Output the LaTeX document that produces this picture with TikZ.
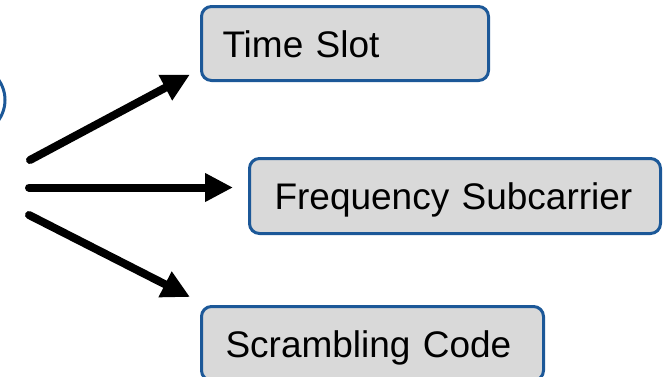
\documentclass[tikz,border=0pt]{standalone}
\usepackage{fontspec}
\setmainfont{Liberation Sans}
\usetikzlibrary{arrows.meta}
\definecolor{edgeblue}{RGB}{28,88,152}
\definecolor{boxgray}{RGB}{217,217,217}
\tikzset{
  itembox/.style={draw=edgeblue, line width=3pt, fill=boxgray, rounded corners=10pt,
    anchor=north west, inner ysep=0pt, align=left,
    text height=27pt, text depth=0pt,
    font=\fontsize{37}{44}\selectfont},
  bigarrow/.style={line width=8pt, line cap=round,
    -{Triangle[length=28pt,width=27pt]}}
}
\begin{document}
\begin{tikzpicture}[x=1pt,y=-1pt]
  \useasboundingbox (0,0) rectangle (664,376);
  \clip (0,0) rectangle (664,376);
  % source circle, mostly off the left edge
  \draw[edgeblue, line width=3pt] (-30,100) circle[radius=35];
  % target boxes
  \node[itembox, inner xsep=21pt, minimum height=74pt, text width=245pt] (slot) at (200,5) {\mbox{Time Slot}};
  \node[itembox, inner xsep=25pt, minimum height=75pt, text width=361pt] (freq) at (248,157) {\mbox{Frequency Subcarrier}};
  \node[itembox, inner xsep=24pt, minimum height=74pt, text width=294pt] (code) at (200,305) {\mbox{Scrambling Code}};
  % arrow end points
  \coordinate (s1) at (30,160);
  \coordinate (s2) at (29,187.5);
  \coordinate (s3) at (29,215);
  \coordinate (t1) at (190,74.5);
  \coordinate (t2) at (233,187.5);
  \coordinate (t3) at (190,297);
  \draw[bigarrow] (s1) -- (t1);
  \draw[bigarrow] (s2) -- (t2);
  \draw[bigarrow] (s3) -- (t3);
\end{tikzpicture}
\end{document}
